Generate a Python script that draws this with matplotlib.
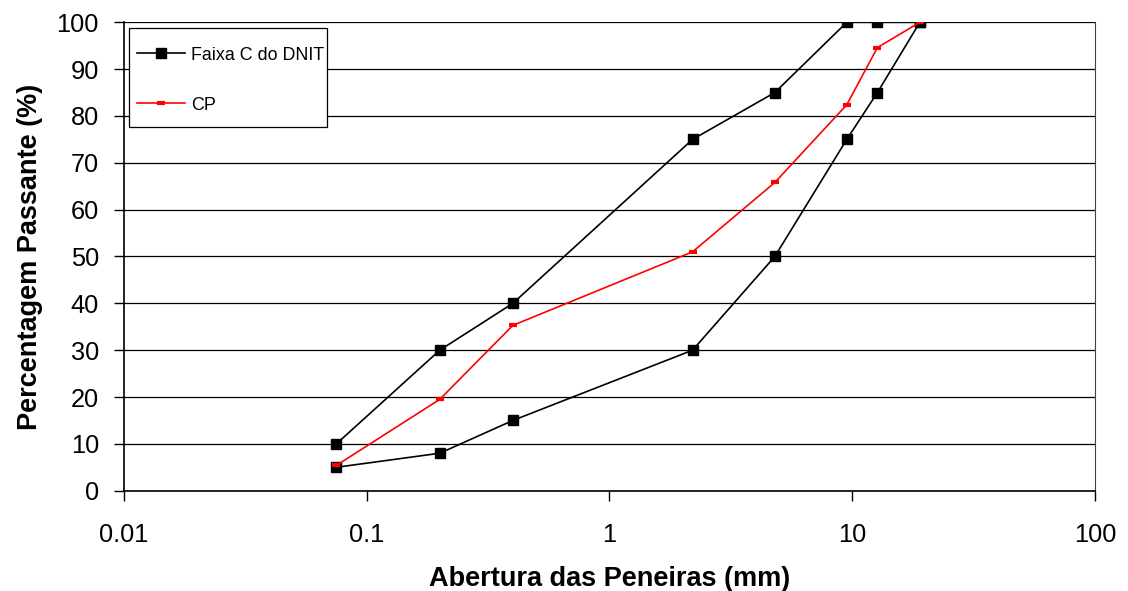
import numpy as np
import matplotlib.pyplot as plt
from matplotlib.patches import Rectangle

# peneiras (mm) e limites da faixa C do DNIT
peneiras = [0.075, 0.2, 0.4, 2.2, 4.8, 9.5, 12.7, 19.0]
faixa_inf = [5, 8, 15, 30, 50, 75, 85, 100]
faixa_sup = [10, 30, 40, 75, 85, 100, 100, 100]
cp = [5.4, 19.5, 35.3, 51.0, 65.8, 82.4, 94.6, 100]

plt.rcParams['font.family'] = ['Liberation Sans', 'DejaVu Sans']

W, H = 1128, 591
fig = plt.figure(figsize=(W / 100, H / 100), dpi=100)
ax = fig.add_axes([0.1099, 0.1697, 0.8608, 0.7926])

# a faixa vai pelo limite inferior e volta pelo superior
x_faixa = peneiras + peneiras[::-1]
y_faixa = faixa_inf + faixa_sup[::-1]
ax.plot(x_faixa, y_faixa, color='black', lw=1.2, marker='s', ms=7.5,
        label='Faixa C do DNIT')
ax.plot(peneiras, cp, color='red', lw=1.2, marker='_', ms=6, mew=3,
        label='CP')

ax.set_xscale('log')
ax.set_xlim(0.01, 100)
ax.set_ylim(0, 100)
ax.set_xticks([0.01, 0.1, 1, 10, 100])
ax.set_xticklabels(['0.01', '0.1', '1', '10', '100'])
ax.minorticks_off()
ax.set_yticks(np.arange(0, 101, 10))
ax.yaxis.grid(True, color='black', lw=0.9)
ax.set_axisbelow(True)

ax.tick_params(axis='both', which='major', direction='out', length=7,
               width=1, labelsize=18.3)
ax.tick_params(axis='y', pad=11)
ax.tick_params(axis='x', pad=16)
for s in ['left', 'bottom']:
    ax.spines[s].set_color('black')
    ax.spines[s].set_linewidth(1.2)
ax.spines['top'].set_visible(False)
ax.spines['right'].set_color('#404040')

ax.set_xlabel('Abertura das Peneiras (mm)', fontsize=19.5, fontweight='bold',
              labelpad=14)
ax.set_ylabel('Percentagem Passante (%)', fontsize=19.5, fontweight='bold',
              labelpad=10)

# caixa da legenda desenhada à parte (padding vertical maior que o horizontal)
box = Rectangle((129 / W, 1 - 127 / H), 198 / W, 99 / H,
                transform=fig.transFigure, facecolor='white',
                edgecolor='black', lw=0.9, zorder=4, clip_on=False)
ax.add_patch(box)
leg = ax.legend(loc='upper left', bbox_to_anchor=(137 / W, 1 - 46.5 / H),
                bbox_transform=fig.transFigure, fontsize=12.9,
                frameon=False, handlelength=2.7, handletextpad=0.3,
                labelspacing=1.85, borderpad=0, borderaxespad=0)
leg.set_zorder(5)

fig.savefig('out.png', dpi=100)
